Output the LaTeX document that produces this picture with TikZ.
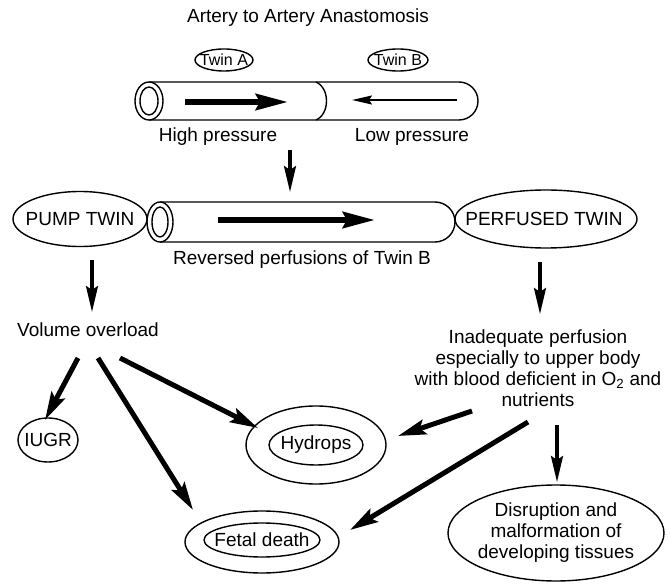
\documentclass[tikz,border=0pt]{standalone}
\usepackage{fontspec}
\setmainfont{Liberation Sans}
\usetikzlibrary{arrows.meta,shapes.geometric}
\begin{document}
\begin{tikzpicture}[x=1pt,y=-1pt,
  txt/.style={inner sep=0pt, font=\fontsize{19}{21}\selectfont},
  small/.style={inner sep=0pt, font=\fontsize{16}{18}\selectfont},
  ring/.style={ellipse, draw, line width=1.4pt, inner sep=0pt},
  big/.style={line width=5pt, -{Stealth[length=28pt,width=15pt,inset=5pt]}},
  down/.style={line width=3.2pt, -{Stealth[length=26pt,width=12pt,inset=4pt]}},
  tube/.style={line width=1.4pt},
]
\useasboundingbox (0,0) rectangle (670,585);

% title
\node[txt] (title) at (308,18) {Artery to Artery Anastomosis};

% top tube
\draw[tube] (149,82) -- (459,82) arc[start angle=90,end angle=-90,radius=19pt] -- (149,120);
\draw[tube, fill=white] (316,82) .. controls (330,88) and (330,114) .. (316,120);
\draw[tube, fill=white] (149,101) ellipse[x radius=14pt, y radius=19pt];
\draw[tube] (149,101) ellipse[x radius=9pt, y radius=14pt];
\draw[line width=6pt, -{Stealth[length=32pt,width=16pt,inset=4pt]}] (185,102) -- (288,102);
\draw[line width=2pt, -{Stealth[length=20pt,width=9pt,inset=3pt]}] (457,100) -- (352,100);

\node[ring, minimum width=58pt, minimum height=22pt] (twa) at (224,60) {};
\node[small] (twat) at (224,60) {Twin A};
\node[ring, minimum width=60pt, minimum height=22pt] (twb) at (398,60) {};
\node[small] (twbt) at (398,60) {Twin B};
\node[txt] (hp) at (218,137) {High pressure};
\node[txt] (lp) at (412,137) {Low pressure};

\coordinate (t1) at (290,150);
\coordinate (t2) at (290,192);
\draw[down] (t1) -- (t2);

% middle tube
\draw[tube] (160,202) -- (435,202) arc[start angle=90,end angle=-90,radius=20pt] -- (160,242);
\draw[tube, fill=white] (160,222) ellipse[x radius=13pt, y radius=20pt];
\draw[tube] (160,222) ellipse[x radius=8pt, y radius=15pt];
\draw[line width=6pt, -{Stealth[length=32pt,width=16pt,inset=4pt]}] (218,220) -- (375,220);

\node[ring, minimum width=134pt, minimum height=55pt] (pump) at (80,219) {};
\node[txt] (pumpt) at (80,219) {PUMP TWIN};
\node[ring, minimum width=182pt, minimum height=58pt] (perf) at (546,219) {};
\node[txt] (perft) at (544,219) {PERFUSED TWIN};
\node[txt] (rev) at (302,260) {Reversed perfusions of Twin B};

\node[txt] (vo) at (88,330) {Volume overload};
\node[txt, align=center] (ip) at (538,368) {Inadequate perfusion\\especially to upper body\\with blood deficient in O\textsubscript{2} and\\nutrients};

\draw[down] ([shift={(12,41)}]pump.center) -- ([shift={(4,-18)}]vo.center);
\draw[down] ([shift={(-6,43)}]perf.center) -- ([shift={(2,-54)}]ip.center);

% outcomes
\node[ring, minimum width=60pt, minimum height=44pt] (iugr) at (48,440) {};
\node[txt] (iugrt) at (48,440) {IUGR};
\node[ring, minimum width=140pt, minimum height=78pt] (hyd) at (316,445) {};
\node[ring, minimum width=94pt, minimum height=40pt] (hydin) at (316,445) {};
\node[txt] (hydt) at (316,445) {Hydrops};
\node[ring, minimum width=154pt, minimum height=62pt] (fd) at (262,542) {};
\node[ring, minimum width=116pt, minimum height=34pt] (fdin) at (262,540) {};
\node[txt] (fdt) at (262,540) {Fetal death};
\node[ring, minimum width=216pt, minimum height=96pt] (dis) at (556,533) {};
\node[txt, align=center] (dist) at (556,533) {Disruption and\\malformation of\\developing tissues};

\draw[big] ([shift={(-10,28)}]vo.center) -- ([shift={(-3,-20)}]iugr.center);
\draw[big] ([shift={(10,28)}]vo.center) -- ([shift={(-69,-32)}]fd.center);
\draw[big] ([shift={(32,28)}]vo.center) -- ([shift={(-58,-17)}]hyd.center);
\draw[big] ([shift={(-66,43)}]ip.center) -- ([shift={(82,-9)}]hyd.center);
\draw[big] ([shift={(-10,54)}]ip.center) -- ([shift={(88,-12)}]fd.center);
\draw[down] ([shift={(19,57)}]ip.center) -- ([shift={(1,-51)}]dis.center);
\end{tikzpicture}
\end{document}
